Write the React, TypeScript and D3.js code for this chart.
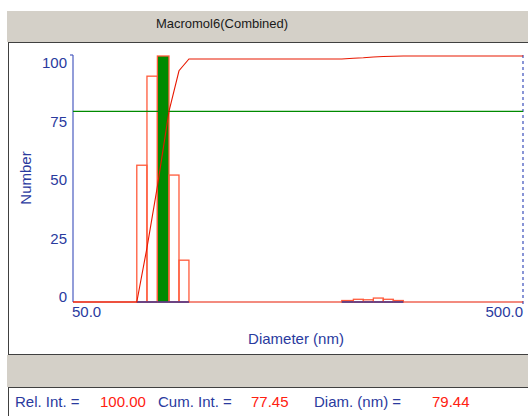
import React from "react";
import * as d3 from "d3";

const title = "Macromol6(Combined)";
const xDomain = [50, 500];
const xTickLabels = ["50.0", "500.0"];
const yTicks = [0, 25, 50, 75, 100];

// histogram bins (nm) and relative number
const binLo = [69.3, 73.0, 77.0, 81.7, 86.0, 197.8, 209.9, 220.9, 232.5, 244.6, 257.5];
const binHi = [73.0, 77.0, 81.7, 86.0, 90.5, 209.9, 220.9, 232.5, 244.6, 257.5, 271.0];
const binValue = [55.6, 91.8, 100, 51.6, 17.0, 0.6, 1.1, 0.9, 1.6, 1.1, 0.6];
const selectedBin = 2;

// cumulative curve
const cumDiam = [50, 69.3, 73.0, 77.0, 81.7, 86.0, 90.5, 197.8, 209.9, 220.9, 232.5, 244.6, 257.5, 271.0, 500];
const cumValue = [0, 0, 22, 47, 77.45, 94, 98.8, 98.8, 99.1, 99.3, 99.6, 99.8, 99.9, 100, 100];

const cursorCum = 77.45;
const infoLabels = ["Rel. Int. =", "Cum. Int. =", "Diam. (nm) ="];
const infoValues = ["100.00", "77.45", "79.44"];

const BLUE_TXT = "#2a3a9e";
const BLUE_AX = "#4a5cc0";
const RED = "#e81800";
const BAR_RED = "#ff5a3a";
const GREEN = "#008a00";
const GRAY = "#d4d0c8";
const FONT = "'Liberation Sans', Arial, sans-serif";

export default function App() {
  const W = 528, H = 416;
  const x0 = 73, x1 = 523, yTop = 56, yBot = 302;
  const x = d3.scaleLog().domain(xDomain).range([x0, x1]);
  const y = d3.scaleLinear().domain([0, 100]).range([yBot, yTop]);
  const yLab = d3.scaleLinear().domain([0, 100]).range([297, 63]);
  const cumLine = d3
    .line<number>()
    .x((_, i) => x(cumDiam[i]))
    .y((v) => y(v));

  const infoX = [15, 158, 314];
  const valX = [100, 251, 432];

  return (
    <svg
      width={W}
      height={H}
      style={{ position: "absolute", left: 0, top: 0, background: "#fff" }}
      fontFamily={FONT}
    >
      <rect x={0} y={0} width={W} height={H} fill="#fff" />
      {/* title bar */}
      <rect x={7} y={11} width={W - 7} height={31} fill={GRAY} />
      <text x={222} y={23} textAnchor="middle" dy="0.35em" fontSize={13} fill="#1a1a1a">
        {title}
      </text>
      {/* chart panel */}
      <rect x={8.5} y={42.5} width={W} height={312} fill="#fff" stroke="#404040" strokeWidth={1} />
      {/* gray strip */}
      <rect x={7} y={355} width={W - 7} height={32} fill={GRAY} />
      {/* info panel */}
      <rect x={8.5} y={387.5} width={W} height={40} fill="#fff" stroke="#404040" strokeWidth={1} />

      {/* y axis */}
      <line x1={x0} x2={x0} y1={yTop - 1} y2={yBot} stroke={BLUE_AX} strokeWidth={1.2} />
      <line x1={x0 - 3} x2={x0} y1={yTop - 1} y2={yTop - 1} stroke={BLUE_AX} strokeWidth={1.2} />
      {yTicks.map((t) => (
        <text key={t} x={67} y={yLab(t)} dy="0.35em" textAnchor="end" fontSize={15} fill={BLUE_TXT}>
          {t}
        </text>
      ))}
      <text
        transform={`translate(26,${178}) rotate(-90)`}
        textAnchor="middle"
        dy="0.35em"
        fontSize={15}
        fill={BLUE_TXT}
      >
        Number
      </text>
      {/* right dashed border */}
      <line x1={x1} x2={x1} y1={yTop - 1} y2={yBot + 2} stroke={BLUE_AX} strokeWidth={1.3} strokeDasharray="3,3" />

      {/* baseline */}
      <line x1={x0} x2={x1} y1={yBot} y2={yBot} stroke={RED} strokeWidth={1.2} />

      {/* histogram bars */}
      {binValue.map((v, i) => (
        <rect
          key={i}
          x={x(binLo[i])}
          y={y(v)}
          width={x(binHi[i]) - x(binLo[i])}
          height={yBot - y(v)}
          fill={i === selectedBin ? GREEN : "none"}
          stroke={BAR_RED}
          strokeWidth={1.3}
        />
      ))}
      {binValue.map((v, i) => (
        <line
          key={"b" + i}
          x1={x(binLo[i])}
          x2={x(binHi[i])}
          y1={yBot}
          y2={yBot}
          stroke="#2030a0"
          strokeWidth={1.3}
        />
      ))}

      {/* cursor line */}
      <line x1={x0} x2={x1} y1={y(cursorCum)} y2={y(cursorCum)} stroke={GREEN} strokeWidth={1.2} />

      {/* cumulative */}
      <path d={cumLine(cumValue) || ""} fill="none" stroke={RED} strokeWidth={1.1} />

      {/* x tick labels */}
      <text x={x(xDomain[0]) - 1} y={312} dy="0.35em" textAnchor="start" fontSize={15} fill={BLUE_TXT}>
        {xTickLabels[0]}
      </text>
      <text x={x(xDomain[1])} y={312} dy="0.35em" textAnchor="end" fontSize={15} fill={BLUE_TXT}>
        {xTickLabels[1]}
      </text>
      <text x={296} y={339} dy="0.35em" textAnchor="middle" fontSize={15} fill={BLUE_TXT}>
        Diameter (nm)
      </text>

      {/* info */}
      {infoLabels.map((l, i) => (
        <text key={l} x={infoX[i]} y={402} dy="0.35em" fontSize={15} fill={BLUE_TXT}>
          {l}
        </text>
      ))}
      {infoValues.map((v, i) => (
        <text key={v} x={valX[i]} y={402} dy="0.35em" fontSize={15} fill="#ff2010">
          {v}
        </text>
      ))}
    </svg>
  );
}
